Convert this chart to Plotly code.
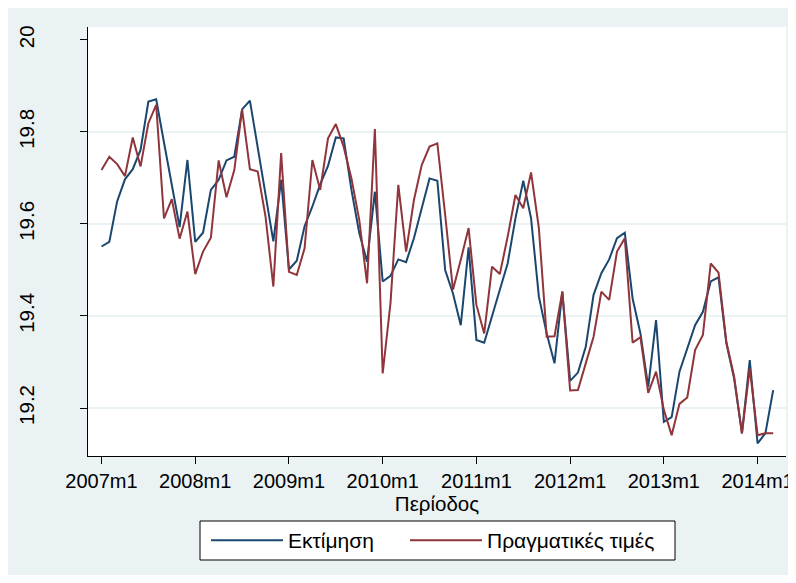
import plotly.graph_objects as go

# Monthly periods, Stata %tm style (2007m1 = 564)
start_year = 2007
n_months = 87  # 2007m1 .. 2014m3

estimate = [
    19.551, 19.561, 19.649, 19.697, 19.719, 19.761, 19.866, 19.871, 19.777, 19.687,
    19.593, 19.739, 19.561, 19.581, 19.674, 19.696, 19.738, 19.746, 19.849, 19.868,
    19.767, 19.667, 19.562, 19.696, 19.501, 19.520, 19.595, 19.638, 19.686, 19.726,
    19.788, 19.786, 19.674, 19.580, 19.518, 19.670, 19.475, 19.487, 19.523, 19.517,
    19.569, 19.634, 19.699, 19.694, 19.500, 19.449, 19.380, 19.549, 19.348, 19.342,
    19.402, 19.457, 19.514, 19.612, 19.694, 19.612, 19.442, 19.362, 19.297, 19.453,
    19.259, 19.277, 19.333, 19.446, 19.493, 19.523, 19.569, 19.581, 19.438, 19.362,
    19.246, 19.391, 19.170, 19.180, 19.279, 19.332, 19.380, 19.409, 19.475, 19.484,
    19.341, 19.264, 19.145, 19.304, 19.123, 19.145, 19.239,
]

actual = [
    19.717, 19.746, 19.730, 19.704, 19.788, 19.725, 19.819, 19.859, 19.612, 19.654,
    19.568, 19.627, 19.491, 19.540, 19.570, 19.738, 19.658, 19.717, 19.849, 19.719,
    19.714, 19.616, 19.464, 19.754, 19.496, 19.489, 19.547, 19.739, 19.674, 19.786,
    19.817, 19.768, 19.699, 19.609, 19.471, 19.806, 19.275, 19.428, 19.685, 19.540,
    19.652, 19.728, 19.768, 19.775, 19.620, 19.457, 19.522, 19.591, 19.424, 19.362,
    19.507, 19.491, 19.572, 19.663, 19.634, 19.712, 19.591, 19.355, 19.356, 19.453,
    19.238, 19.239, 19.297, 19.355, 19.453, 19.435, 19.540, 19.569, 19.342, 19.354,
    19.233, 19.279, 19.196, 19.141, 19.209, 19.223, 19.326, 19.359, 19.514, 19.494,
    19.344, 19.268, 19.145, 19.286, 19.141, 19.145, 19.145,
]

tick_labels = ["2007m1", "2008m1", "2009m1", "2010m1", "2011m1", "2012m1", "2013m1", "2014m1"]
y_ticks = [19.2, 19.4, 19.6, 19.8, 20.0]
y_tick_labels = ["19.2", "19.4", "19.6", "19.8", "20"]
grid_values = [19.2, 19.4, 19.6, 19.8]

series_names = ["Εκτίμηση", "Πραγματικές τιμές"]
colors = ["#1A476F", "#90353B"]

base = (start_year - 1960) * 12
x = [base + i for i in range(n_months)]
tick_pos = [base + 12 * k for k in range(len(tick_labels))]

FONT = "Liberation Sans, Arial, sans-serif"
BG = "#EAF2F3"

# figure geometry (page is offset 8px by body margin)
W, H = 788, 567
L, R, T, B = 80, 10, 19, 119
pw, ph = W - L - R, H - T - B
OFF = 8


def px_x(p):  # page pixel -> paper x
    return (p - OFF - L) / pw


def px_y(p):  # page pixel -> paper y
    return (OFF + H - B - p) / ph


fig = go.Figure()
fig.add_trace(go.Scatter(x=x, y=estimate, mode="lines", name=series_names[0],
                         line=dict(color=colors[0], width=2), legend="legend"))
fig.add_trace(go.Scatter(x=x, y=actual, mode="lines", name=series_names[1],
                         line=dict(color=colors[1], width=2), legend="legend2"))

shapes = [
    dict(type="rect", xref="paper", yref="paper", layer="below",
         x0=px_x(200), x1=px_x(675), y0=px_y(560), y1=px_y(521),
         fillcolor="white", line=dict(color="black", width=1)),
]

leg_common = dict(xanchor="left", yanchor="top", y=px_y(520),
                  bgcolor="rgba(0,0,0,0)", borderwidth=0,
                  font=dict(size=21, family=FONT), itemwidth=72)

fig.update_layout(
    width=W, height=H,
    margin=dict(l=L, r=R, t=T, b=B, autoexpand=False),
    paper_bgcolor=BG, plot_bgcolor="white",
    font=dict(family=FONT, size=20.5, color="black"),
    shapes=shapes,
    showlegend=True,
    legend=dict(x=px_x(206), **leg_common),
    legend2=dict(x=px_x(405), **leg_common),
)

fig.update_xaxes(
    range=[base - 1.73, base + 87.64],
    tickmode="array", tickvals=tick_pos, ticktext=tick_labels,
    ticks="outside", ticklen=7, tickcolor="black", tickwidth=1,
    showline=True, linecolor="black", linewidth=1,
    showgrid=False, zeroline=False,
    tickfont=dict(size=20),
    ticklabeloverflow="allow",
    title=dict(text="Περίοδος", font=dict(size=20.5), standoff=0),
    automargin=False,
)

fig.update_yaxes(
    range=[19.0957, 20.028],
    tickmode="array", tickvals=y_ticks, ticktext=y_tick_labels,
    ticks="outside", ticklen=7, tickcolor="black", tickwidth=1,
    showline=True, linecolor="black", linewidth=1,
    showgrid=False, zeroline=False,
    tickangle=-90, tickfont=dict(size=20.5),
    ticklabelstandoff=38,
    minor=dict(tickmode="array", tickvals=grid_values, showgrid=True,
               gridcolor=BG, gridwidth=2, ticks=""),
    automargin=False,
)

fig.write_html("out.html")
